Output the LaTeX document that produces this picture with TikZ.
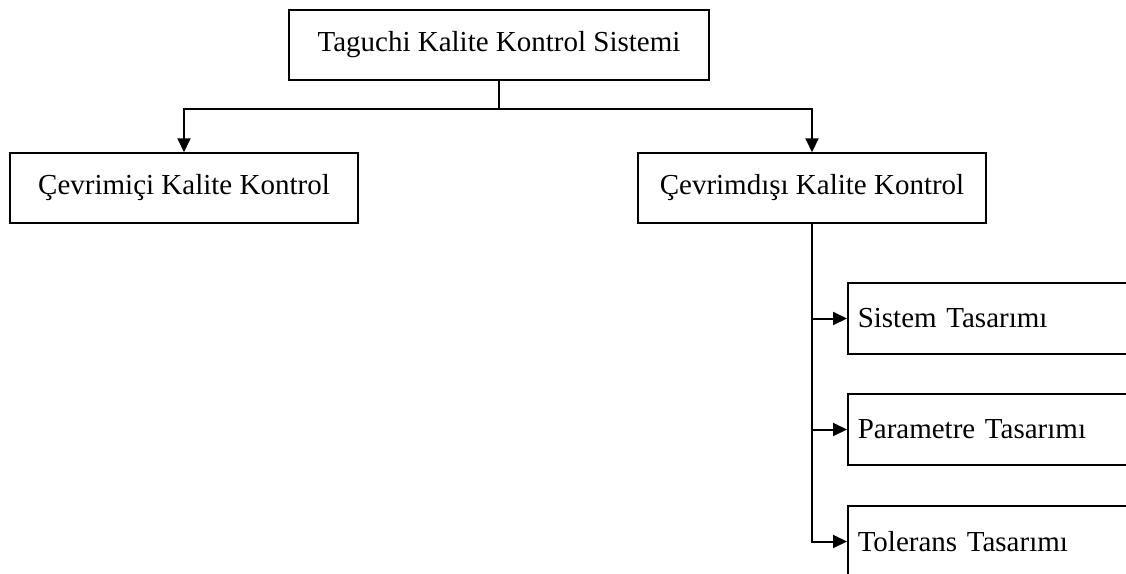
\documentclass[tikz,border=0pt]{standalone}
\usepackage{fontspec}
\setmainfont{Liberation Serif}
\usetikzlibrary{arrows.meta}
\begin{document}
\begin{tikzpicture}[x=1pt, y=-1pt,
                    arrow/.style = {line width=2pt,-{Triangle[length=14pt,width=13pt]}},
                    box/.style = {draw, line width=1.5pt, inner sep=10pt, minimum height=70pt,
                                  font=\fontsize{29}{35}\selectfont},
                    subbox/.style = {box, minimum height=71pt, text width=328pt, align=left, anchor=west}]
                    \useasboundingbox (0,0) rectangle (1126,573);
                    \clip (0,0) rectangle (1126,573);

                    \node[box, minimum width=420pt] (taguchi) at (499,45) {Taguchi Kalite Kontrol Sistemi};
                    \node[box, minimum width=348pt] (cevrimici) at (184,188) {Çevrimiçi Kalite Kontrol};
                    \node[box, minimum width=348pt] (cevrimdisi) at (812,188) {Çevrimdışı Kalite Kontrol};

                    \node[subbox] (sistem) at (847,318.5) {Sistem Tasarımı};
                    \node[subbox] (parametre) at (847,429.5) {Parametre Tasarımı};
                    \node[subbox] (tolerans) at (847,541.5) {Tolerans Tasarımı};

                    \draw[arrow] (taguchi.south) -- ++(0,28) -| (cevrimici.north);
                    \draw[arrow] (taguchi.south) -- ++(0,28) -| (cevrimdisi.north);

                    \draw[arrow] (cevrimdisi.south) |- (sistem.west);
                    \draw[arrow] (cevrimdisi.south) |- (parametre.west);
                    \draw[arrow] (cevrimdisi.south) |- (tolerans.west);
                \end{tikzpicture}
\end{document}
